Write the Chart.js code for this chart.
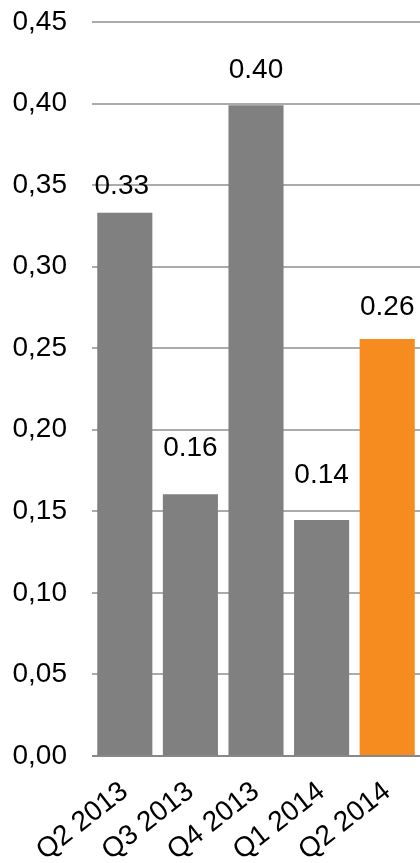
<!DOCTYPE html>
<html>
<head>
<meta charset="utf-8">
<script src="https://cdn.jsdelivr.net/npm/chart.js@4/dist/chart.umd.min.js"></script>
<style>
  html, body { margin: 0; padding: 0; background: #fff; }
  #wrap { width: 420px; height: 863px; position: relative; }
</style>
</head>
<body>
<div id="wrap"><canvas id="epsChart"></canvas></div>
<script>
const quarters = ['Q2 2013', 'Q3 2013', 'Q4 2013', 'Q1 2014', 'Q2 2014'];
const values = [0.333, 0.1605, 0.399, 0.1447, 0.2557];
const barColors = ['#808080', '#808080', '#808080', '#808080', '#f68b1f'];
const yTicks = { min: 0, max: 0.45, step: 0.05 };

// labels above bars, each one sits a bit differently in the original
const labelGap = [19, 38, 27, 37, 24];

const valueLabels = {
    id: 'valueLabels',
    afterDatasetsDraw(chart) {
        const ctx = chart.ctx;
        const meta = chart.getDatasetMeta(0);
        ctx.save();
        ctx.font = '28px "Liberation Sans", Arial, sans-serif';
        ctx.fillStyle = '#000';
        ctx.textAlign = 'center';
        ctx.textBaseline = 'alphabetic';
        meta.data.forEach((bar, i) => {
            ctx.fillText(values[i].toFixed(2), bar.x - (i === 0 ? 3 : 0), bar.y - labelGap[i]);
        });
        ctx.restore();
    }
};

const font = { family: '"Liberation Sans", Arial, sans-serif', size: 28 };

new Chart(document.getElementById('epsChart').getContext('2d'), {
    type: 'bar',
    data: {
        labels: quarters,
        datasets: [{
            data: values,
            backgroundColor: barColors,
            borderWidth: 0,
            barPercentage: 0.84,
            categoryPercentage: 1
        }]
    },
    options: {
        responsive: true,
        maintainAspectRatio: false,
        animation: false,
        layout: { padding: { top: 22, right: 0, left: 0, bottom: 0 } },
        plugins: {
            legend: { display: false },
            tooltip: { enabled: false }
        },
        scales: {
            x: {
                grid: { display: false },
                border: { display: false },
                ticks: {
                    color: '#000',
                    font: font,
                    maxRotation: 38,
                    minRotation: 38,
                    padding: 11
                },
                afterFit(scale) {
                    scale.height = 107;
                    scale.paddingLeft = 0;
                    scale.paddingRight = 0;
                }
            },
            y: {
                min: yTicks.min,
                max: yTicks.max,
                border: { display: false },
                grid: {
                    drawTicks: false,
                    lineWidth: 2,
                    color: c => c.tick && c.tick.value === 0 ? '#888888' : '#ababab'
                },
                ticks: {
                    stepSize: yTicks.step,
                    color: '#000',
                    font: font,
                    padding: 25,
                    callback: v => v.toFixed(2).replace('.', ',')
                },
                afterFit(scale) {
                    scale.width = 92;
                    scale.paddingTop = 0;
                    scale.paddingBottom = 0;
                }
            }
        }
    },
    plugins: [valueLabels]
});
</script>
</body>
</html>
